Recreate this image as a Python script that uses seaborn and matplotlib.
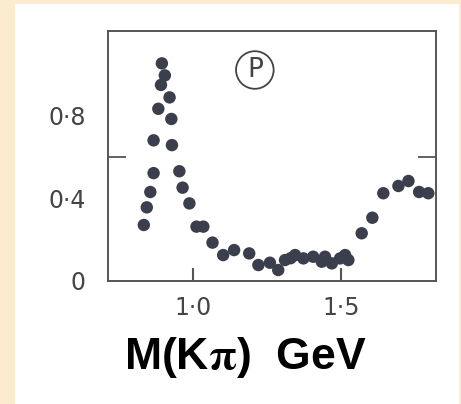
import matplotlib
matplotlib.use("Agg")
import matplotlib.pyplot as plt
import seaborn as sns
import pandas as pd
from matplotlib.patches import Rectangle

# M(K pi) in GeV and the value
mass = [0.834, 0.844, 0.856, 0.867, 0.867, 0.883, 0.892, 0.895, 0.905, 0.921,
        0.927, 0.929, 0.954, 0.965, 0.988, 1.012, 1.035, 1.066, 1.102, 1.139,
        1.190, 1.221, 1.260, 1.288, 1.311, 1.330, 1.345, 1.373, 1.406, 1.435,
        1.446, 1.469, 1.497, 1.514, 1.525, 1.570, 1.606, 1.643, 1.694, 1.728,
        1.764, 1.795]
value = [0.270, 0.355, 0.429, 0.520, 0.678, 0.830, 0.945, 1.049, 0.991, 0.885,
         0.781, 0.655, 0.529, 0.450, 0.374, 0.262, 0.262, 0.185, 0.125, 0.149,
         0.133, 0.077, 0.088, 0.053, 0.101, 0.110, 0.125, 0.109, 0.117, 0.093,
         0.117, 0.085, 0.109, 0.125, 0.101, 0.230, 0.305, 0.423, 0.458, 0.482,
         0.429, 0.423]

xticks = [1.0, 1.5]
xlabels = ["1·0", "1·5"]
yticks = [0, 0.4, 0.8]
ylabels = ["0", "0·4", "0·8"]

df = pd.DataFrame({"mass": mass, "value": value})

sns.set_style("white")
plt.rcParams["mathtext.fontset"] = "stix"

fig = plt.figure(figsize=(4.61, 4.04), dpi=100)
fig.patch.set_facecolor("#fcebcf")
# white page behind the plot
fig.patches.append(Rectangle((15 / 461, 0), 444 / 461, 1 - 4 / 404,
                             transform=fig.transFigure, facecolor="white",
                             edgecolor="none", zorder=-10))

ax = fig.add_axes([108 / 461, 1 - 281 / 404, 328 / 461, 250 / 404])
ax.set_zorder(1)
ax.set_facecolor("none")

sns.scatterplot(data=df, x="mass", y="value", ax=ax, s=80,
                color="#3b3e4c", edgecolor="none", legend=False)

ax.set_xlim(0.713, 1.821)
ax.set_ylim(0, 1.205)

for sp in ax.spines.values():
    sp.set_color("#555555")
    sp.set_linewidth(1.4)

ax.set_xticks(xticks)
ax.set_xticklabels(xlabels)
ax.set_yticks(yticks)
ax.set_yticklabels(ylabels)
ax.tick_params(axis="x", length=0, pad=11, labelsize=17, labelcolor="#444444")
ax.tick_params(axis="y", length=0, pad=16, labelsize=17, labelcolor="#444444")

# short inner marks at the x ticks
ax.vlines(xticks, 0, 0.065, colors="#555555", linewidth=1.5, zorder=5,
          clip_on=False)

# single inner tick at 0.6 on both sides
ax.set_yticks([0.6], minor=True)
ax.tick_params(axis="y", which="minor", direction="in", length=13, width=1.3,
               color="#555555", left=True, right=True)

ax.set_xlabel("")
ax.set_ylabel("")

ax.text(1.209, 1.017, "P", fontsize=19, color="#444444", ha="center", va="center",
        bbox=dict(boxstyle="circle,pad=0.22", facecolor="none",
                  edgecolor="#444444", linewidth=1.3))

fig.text(245 / 461, 1 - 357 / 404, r"M(K$\mathbf{\pi}$)  GeV", fontsize=32,
         fontweight="bold", family="Liberation Sans", ha="center", va="center",
         color="black")

fig.savefig("out.png", dpi=100, facecolor=fig.get_facecolor())
